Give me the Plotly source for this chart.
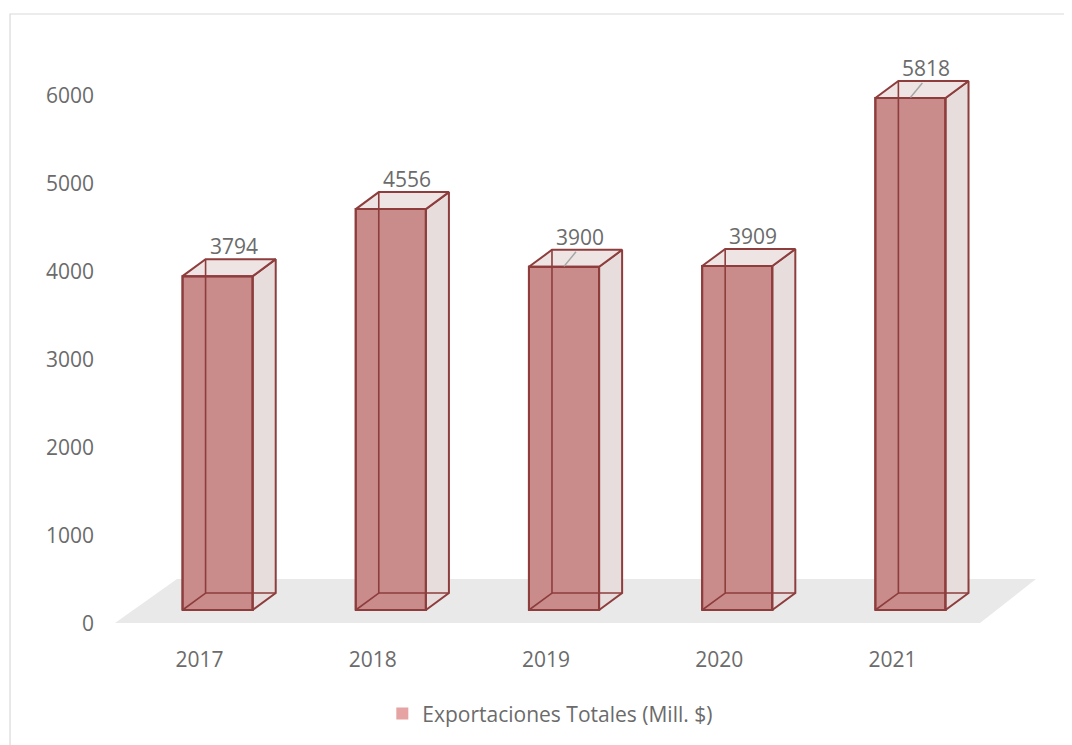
import plotly.graph_objects as go

# ---- data ----
years = ["2017", "2018", "2019", "2020", "2021"]
values = [3794, 4556, 3900, 3909, 5818]
series_name = "Exportaciones Totales (Mill. $)"
y_ticks = [0, 1000, 2000, 3000, 4000, 5000, 6000]
leader = [False, False, True, False, True]

# ---- style ----
FRONT = "#c98c8b"
SIDE = "#e8dddd"
TOP = "#eee4e4"
EDGE = "#8e3d3d"
TXT = "#6b6b6b"
FONT = "Open Sans"
FS = 21

xc = list(range(len(years)))
shift = 0.104      # front-face centre offset from category centre
half = 0.2025      # half width of bar
base = 159         # floor height of bar front base (axis units)
ddx = 0.133        # depth offset x (category units)
ddy = 193          # depth offset y (axis units)

fig = go.Figure()

# front faces as bars
fig.add_trace(go.Bar(
    x=xc, y=values, base=base, width=2 * half, offset=shift - half,
    marker=dict(color=FRONT, line=dict(color=EDGE, width=2)),
    showlegend=False, hoverinfo="skip"))

for i, v in zip(xc, values):
    xl = i + shift - half
    xr = i + shift + half
    b = base
    t = base + v
    # side face
    fig.add_trace(go.Scatter(
        x=[xr, xr + ddx, xr + ddx, xr, xr], y=[b, b + ddy, t + ddy, t, b],
        fill="toself", fillcolor=SIDE, mode="lines",
        line=dict(color=EDGE, width=2), showlegend=False, hoverinfo="skip"))
    # top face
    fig.add_trace(go.Scatter(
        x=[xl, xl + ddx, xr + ddx, xr, xl], y=[t, t + ddy, t + ddy, t, t],
        fill="toself", fillcolor=TOP, mode="lines",
        line=dict(color=EDGE, width=2), showlegend=False, hoverinfo="skip"))
    # hidden edges (seen through translucent box)
    fig.add_trace(go.Scatter(
        x=[xl, xl + ddx, xl + ddx, None, xl + ddx, xr + ddx],
        y=[b, b + ddy, t + ddy, None, b + ddy, b + ddy],
        mode="lines", line=dict(color=EDGE, width=1.6),
        showlegend=False, hoverinfo="skip"))
    # front outline again on top
    fig.add_trace(go.Scatter(
        x=[xl, xr, xr, xl, xl], y=[b, b, t, t, b],
        mode="lines", line=dict(color=EDGE, width=2),
        showlegend=False, hoverinfo="skip"))

# data labels
for i, v, yr, ld in zip(xc, values, years, leader):
    lx = i + shift + 0.092
    ly = base + v + ddy + 148
    fig.add_annotation(x=lx, y=ly, text=str(v), showarrow=False,
                       font=dict(family=FONT, size=FS, color=TXT),
                       xanchor="center", yanchor="middle")
    if ld:
        fig.add_trace(go.Scatter(
            x=[i + shift + 0.069, i + shift], y=[base + v + 170, base + v + 5],
            mode="lines", line=dict(color="#a6a6a6", width=1.5),
            showlegend=False, hoverinfo="skip"))

# legend entry
fig.add_trace(go.Bar(x=[None], y=[None], name=series_name,
                     marker=dict(color="#e6a3a3", line=dict(width=0))))

# floor (paper coords so it is not clipped by the plot area)
fig.add_shape(type="path", xref="paper", yref="paper", layer="below",
              path="M 0.0023 0.0352 L 1.0012 0.0352 L 1.0658 0.1056 L 0.0739 0.1056 Z",
              fillcolor="#e9e9e9", line=dict(width=0))

# chart border
fig.add_shape(type="rect", xref="paper", yref="paper",
              x0=-0.1189, y0=-0.3, x1=1.3, y1=1.0096,
              line=dict(color="#d9d9d9", width=1.2), fillcolor="rgba(0,0,0,0)")

fig.update_layout(
    width=1072, height=745,
    margin=dict(l=105, r=101, t=12, b=108),
    paper_bgcolor="white", plot_bgcolor="white",
    font=dict(family=FONT, size=FS, color=TXT),
    barmode="overlay",
    showlegend=True,
    legend=dict(orientation="h", x=0.505, y=-0.11, xanchor="center",
                yanchor="middle", itemwidth=30,
                font=dict(family=FONT, size=FS, color=TXT),
                bgcolor="rgba(0,0,0,0)"),
    xaxis=dict(range=[-0.5, 4.5], tickvals=xc, ticktext=years,
               showgrid=False, zeroline=False, showline=False, ticks="",
               tickfont=dict(family=FONT, size=FS, color=TXT)),
    yaxis=dict(range=[-238.6, 6863.6], tickvals=y_ticks,
               showgrid=False, zeroline=False, showline=False, ticks="",
               ticklabelstandoff=18,
               tickfont=dict(family=FONT, size=FS, color=TXT)),
)

fig.write_html("out.html")
